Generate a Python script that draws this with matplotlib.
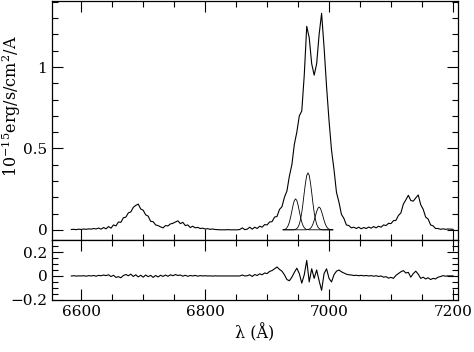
import numpy as np
import matplotlib
matplotlib.use('Agg')
import matplotlib.pyplot as plt
from matplotlib.ticker import MultipleLocator

plt.rcParams['font.family'] = 'DejaVu Serif'
plt.rcParams['mathtext.fontset'] = 'dejavuserif'
plt.rcParams['font.size'] = 11

# wavelength grid (A), 4 A steps
wave = np.arange(6584, 7201, 4)

# observed spectrum (10^-15 erg/s/cm2/A)
flux = [
    0.002, 0.003, 0.001, 0.004, 0.002, 0.005, 0.003, 0.006, 0.004, 0.008,  # 6584
    0.005, 0.011, 0.004, 0.014, 0.006, 0.020, 0.010, 0.030, 0.024, 0.048,  # 6624
    0.046, 0.074, 0.078, 0.104, 0.110, 0.138, 0.150, 0.158, 0.128, 0.120,  # 6664
    0.092, 0.084, 0.052, 0.050, 0.030, 0.026, 0.018, 0.012, 0.026, 0.024,  # 6704
    0.036, 0.040, 0.048, 0.055, 0.038, 0.046, 0.026, 0.030, 0.014, 0.022,  # 6744
    0.012, 0.015, 0.008, 0.010, 0.005, 0.007, 0.003, 0.005, 0.002, 0.001,  # 6784
    0.000, 0.000, 0.000, 0.001, 0.000, 0.000, 0.000, 0.000, 0.002, 0.012,  # 6824
    0.001, 0.004, 0.016, 0.004, 0.016, 0.008, 0.022, 0.016, 0.032, 0.030,  # 6864
    0.048, 0.050, 0.078, 0.082, 0.125, 0.142, 0.200, 0.238, 0.330, 0.400,  # 6904
    0.525, 0.600, 0.700, 0.730, 0.950, 1.250, 1.180, 1.020, 0.950, 1.020,  # 6944
    1.200, 1.330, 1.120, 0.880, 0.670, 0.490, 0.370, 0.230, 0.170, 0.095,  # 6984
    0.070, 0.030, 0.026, 0.012, 0.016, 0.008, 0.016, 0.006, 0.014, 0.008,  # 7024
    0.017, 0.010, 0.020, 0.012, 0.022, 0.016, 0.030, 0.026, 0.040, 0.038,  # 7064
    0.056, 0.058, 0.088, 0.104, 0.158, 0.184, 0.212, 0.180, 0.176, 0.196,  # 7104
    0.214, 0.154, 0.126, 0.078, 0.066, 0.030, 0.024, 0.008, 0.008, 0.003,  # 7144
    0.006, 0.003, 0.005, 0.004, 0.003,                                      # 7184
]

# residuals (data - fit)
resid = [
    0.000, 0.002, -0.001, 0.001, 0.000, 0.002, -0.002, 0.003, 0.000, 0.004,
    -0.002, 0.005, 0.002, 0.008, 0.003, 0.010, -0.005, 0.006, -0.012, -0.006,
    -0.015, 0.004, 0.012, 0.002, 0.015, -0.004, 0.010, -0.008, 0.006, -0.010,
    0.008, -0.006, 0.005, -0.012, 0.004, -0.008, 0.006, -0.004, 0.008, -0.003,
    0.010, 0.002, 0.012, 0.004, 0.008, -0.002, 0.006, -0.003, 0.004, 0.000,
    0.005, -0.002, 0.003, 0.000, 0.002, 0.000, 0.001, -0.001, 0.001, 0.000,
    0.000, 0.000, 0.000, 0.000, 0.000, 0.000, 0.000, 0.000, 0.000, 0.008,
    0.000, 0.002, 0.010, -0.004, 0.012, 0.004, 0.018, 0.010, 0.025, 0.020,
    0.038, 0.045, 0.060, 0.075, 0.055, 0.040, 0.010, -0.030, -0.040, -0.010,
    0.030, 0.065, 0.020, -0.060, 0.010, 0.130, -0.050, 0.060, -0.020, 0.050,
    -0.040, -0.120, 0.020, 0.060, -0.020, -0.050, 0.010, 0.040, 0.050, 0.035,
    0.025, 0.015, 0.010, 0.008, 0.004, 0.006, 0.002, 0.005, 0.001, 0.004,
    0.000, 0.003, -0.002, 0.002, -0.004, 0.000, -0.010, -0.006, -0.018, -0.012,
    -0.020, 0.005, 0.020, 0.035, 0.045, 0.025, 0.030, -0.010, 0.020, 0.040,
    0.015, -0.020, -0.010, -0.025, -0.015, -0.030, -0.020, -0.025, -0.010, -0.005,
    0.003, -0.002, 0.001, 0.000, 0.001,
]

# fitted gaussian components, 2 A grid
wave_c = np.arange(6926, 7007, 2)
comp1 = [0.001, 0.002, 0.005, 0.013, 0.026, 0.047, 0.078, 0.115, 0.152, 0.180,
         0.190, 0.180, 0.152, 0.115, 0.078, 0.047, 0.026, 0.013, 0.005, 0.002,
         0.001] + [0.0] * 20
comp2 = [0.0] * 9 + [0.001, 0.003, 0.008, 0.017, 0.034, 0.064, 0.107, 0.164,
                     0.229, 0.289, 0.334, 0.350, 0.334, 0.289, 0.229, 0.164,
                     0.107, 0.064, 0.034, 0.017, 0.008, 0.003, 0.001] + [0.0] * 9
comp3 = [0.0] * 19 + [0.001, 0.002, 0.004, 0.009, 0.019, 0.035, 0.058, 0.085,
                      0.112, 0.132, 0.140, 0.132, 0.112, 0.085, 0.058, 0.035,
                      0.019, 0.009, 0.004, 0.002, 0.001, 0.0]

fig = plt.figure(figsize=(4.74, 3.52), dpi=100)
ax1 = fig.add_axes([0.110, 0.318, 0.856, 0.678])
ax2 = fig.add_axes([0.110, 0.148, 0.856, 0.170], sharex=ax1)

ax1.plot(wave, flux, color='black', lw=0.8)
for c in (comp1, comp2, comp3):
    ax1.plot(wave_c, c, color='black', lw=0.6)
ax2.plot(wave, resid, color='black', lw=0.8)

ax1.set_xlim(6553, 7208)
ax1.set_ylim(-0.063, 1.403)
ax2.set_ylim(-0.2, 0.3)

ax1.xaxis.set_major_locator(MultipleLocator(200))
ax1.xaxis.set_minor_locator(MultipleLocator(50))
ax1.yaxis.set_major_locator(MultipleLocator(0.5))
ax1.yaxis.set_minor_locator(MultipleLocator(0.1))
ax2.yaxis.set_major_locator(MultipleLocator(0.2))
ax2.yaxis.set_minor_locator(MultipleLocator(0.05))

ax1.set_yticks([0, 0.5, 1])
ax1.set_yticklabels(['0', '0.5', '1'])
ax2.set_yticks([-0.2, 0, 0.2])
ax2.set_yticklabels(['\u22120.2', '0', '0.2'])

for ax in (ax1, ax2):
    ax.tick_params(which='both', direction='in', top=True, right=True)
    ax.tick_params(which='major', length=8, width=0.8)
    ax.tick_params(which='minor', length=4.5, width=0.8)
    for s in ax.spines.values():
        s.set_linewidth(0.9)
ax1.tick_params(labelbottom=False)

ax1.set_ylabel(r'$10^{-15}$erg/s/cm$^2$/A', fontsize=11.5)
ax1.yaxis.set_label_coords(-0.072, 0.56)
ax2.set_xlabel('\u03bb (\u00c5)', fontsize=11.5)

fig.savefig('out.png', dpi=100)
